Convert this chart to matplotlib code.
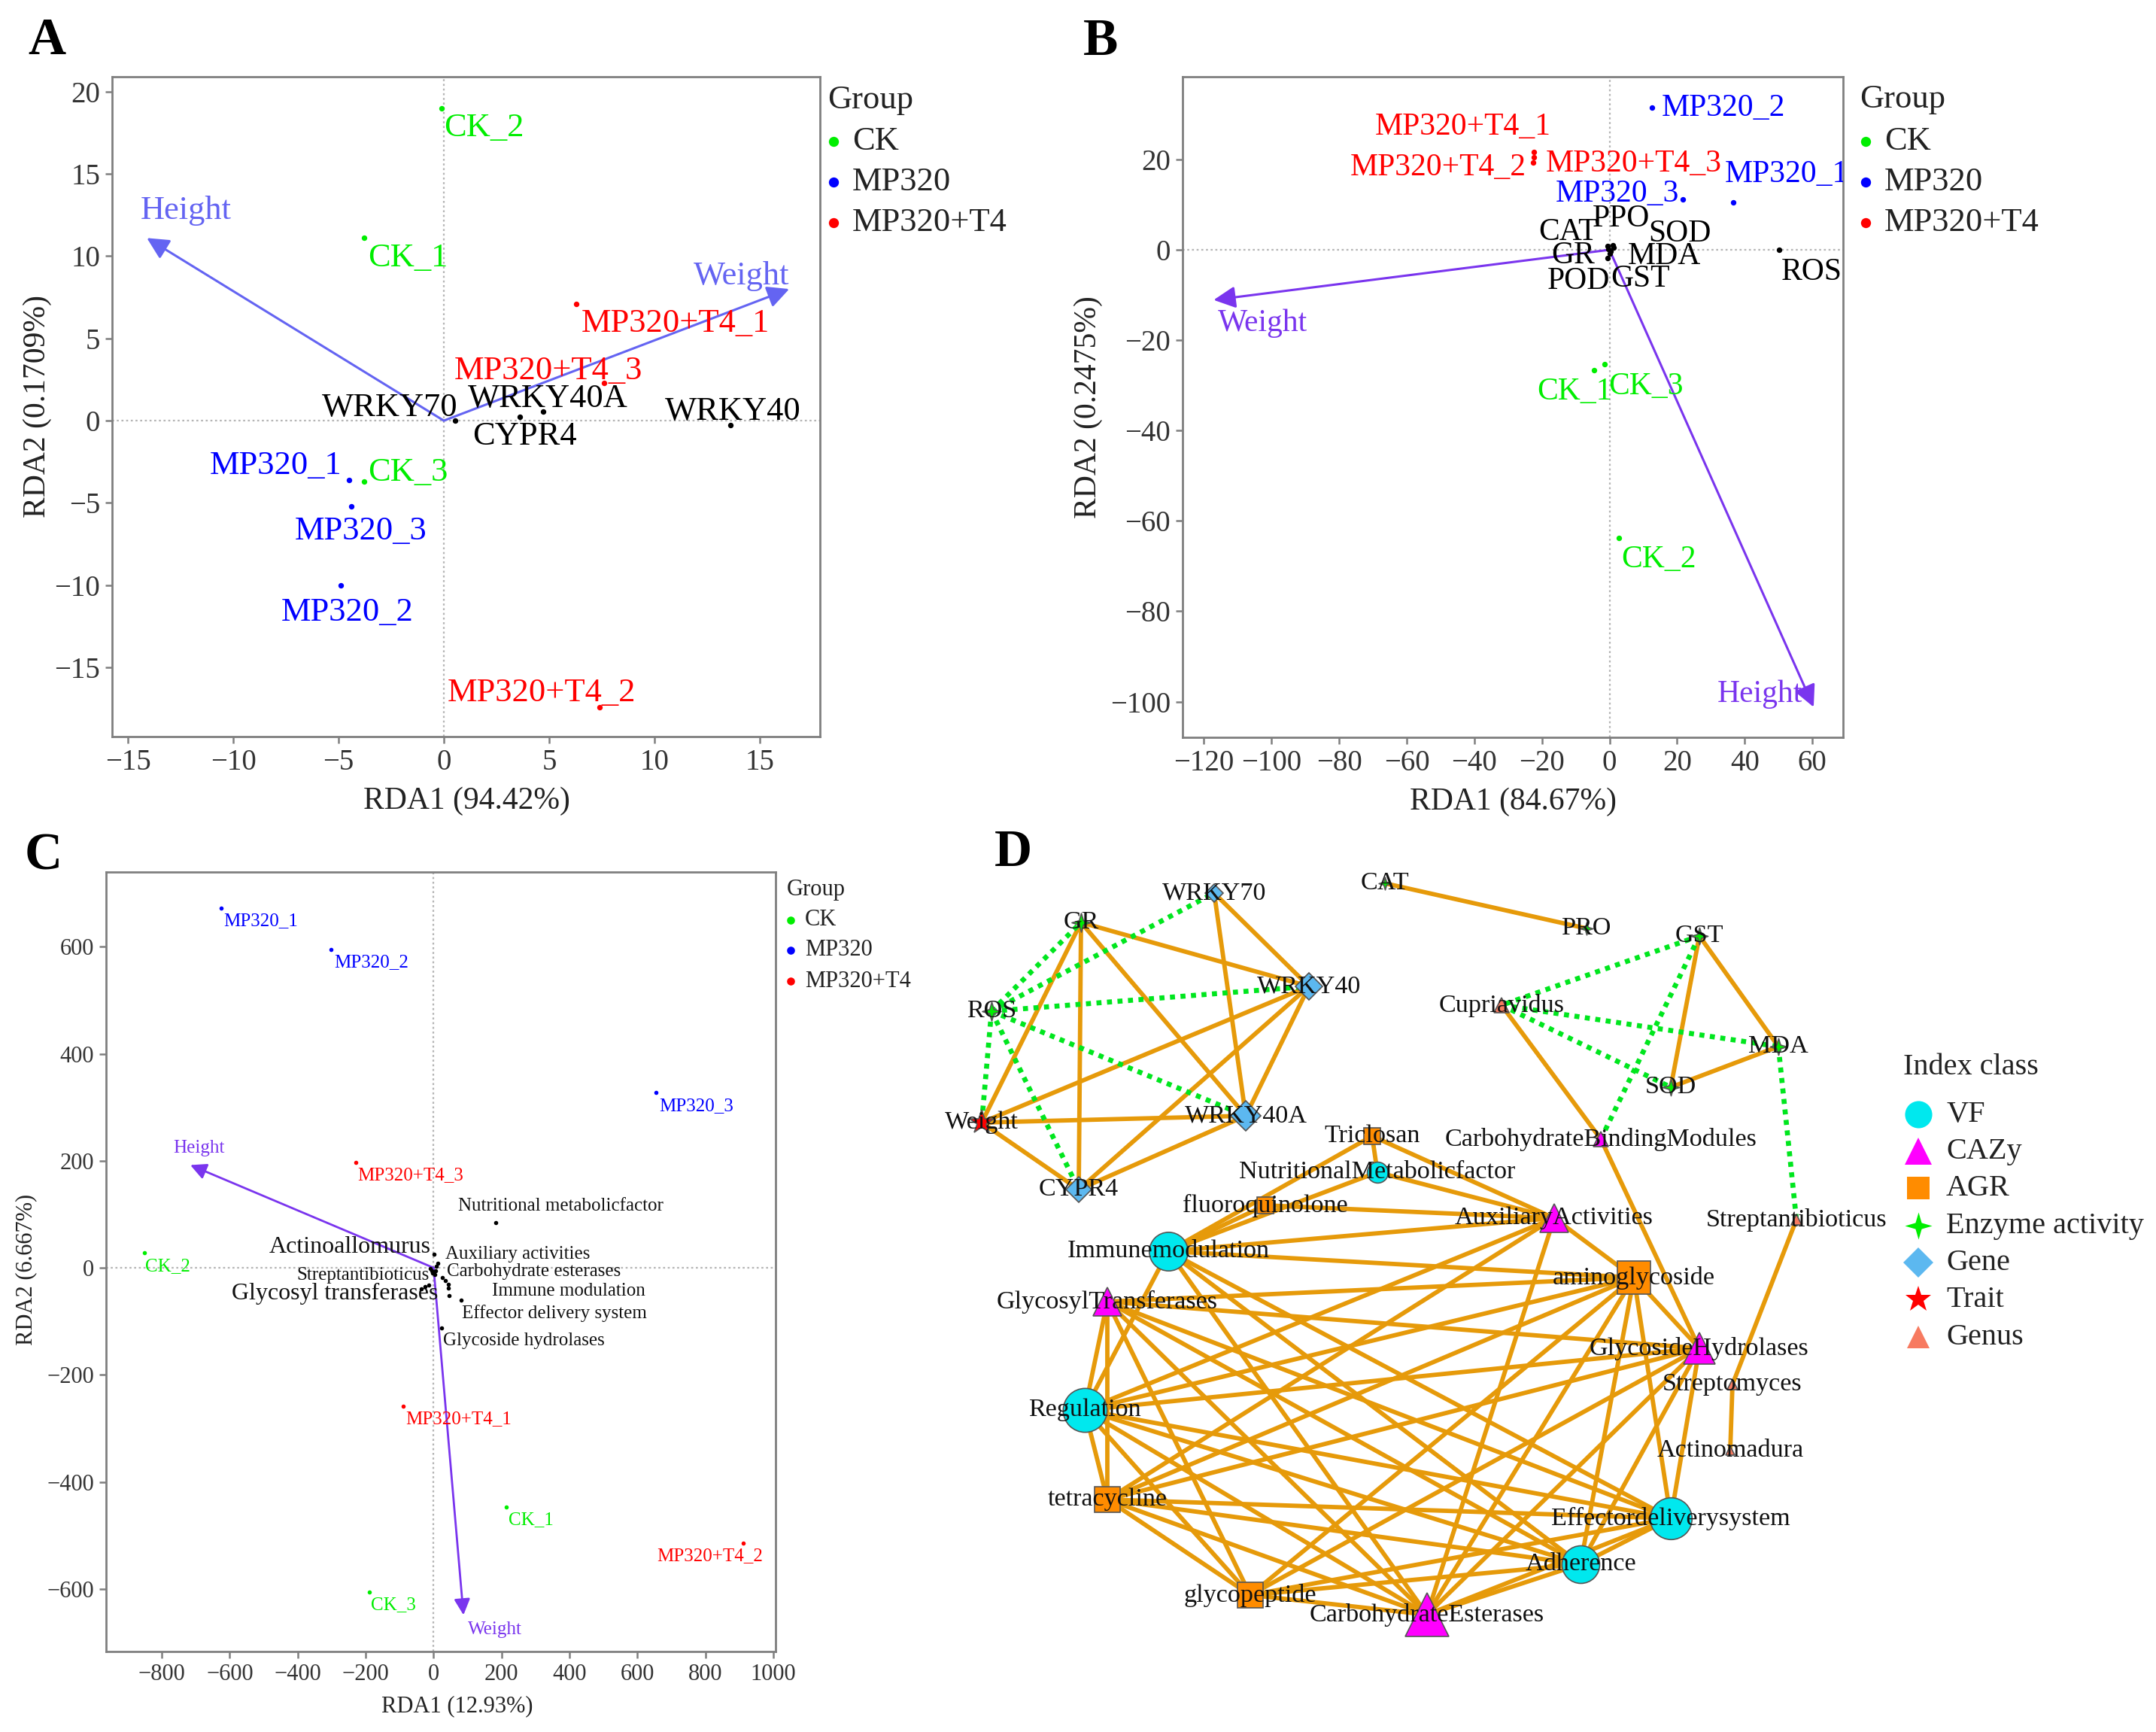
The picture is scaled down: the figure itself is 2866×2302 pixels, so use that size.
import matplotlib
matplotlib.use("Agg")
import matplotlib.pyplot as plt
from matplotlib.lines import Line2D
from matplotlib.path import Path

plt.rcParams['font.family'] = ['Liberation Serif', 'DejaVu Serif']
plt.rcParams['axes.unicode_minus'] = True

W, H = 2866, 2302
fig = plt.figure(figsize=(W / 200, H / 200), dpi=200)

GROUP_COLORS = {"CK": "#00EE00", "MP320": "#0000FF", "MP320+T4": "#FF0000"}
groups = ["CK", "MP320", "MP320+T4"]

# ---------------- data: panel A ----------------
A_samples = ["CK_1", "CK_2", "CK_3", "MP320_1", "MP320_2", "MP320_3",
             "MP320+T4_1", "MP320+T4_2", "MP320+T4_3"]
A_group = ["CK", "CK", "CK", "MP320", "MP320", "MP320", "MP320+T4", "MP320+T4", "MP320+T4"]
A_rda1 = [-3.8, -0.1, -3.8, -4.5, -4.9, -4.4, 6.3, 7.4, 7.6]
A_rda2 = [11.1, 19.0, -3.7, -3.6, -10.0, -5.2, 7.1, -17.4, 2.3]
A_genes = ["WRKY70", "WRKY40A", "CYPR4", "WRKY40"]
A_gene1 = [0.55, 4.7, 3.6, 13.6]
A_gene2 = [0.0, 0.55, 0.22, -0.26]
A_env = ["Height", "Weight"]
A_env1 = [-14.1, 16.4]
A_env2 = [11.1, 8.0]

# ---------------- data: panel B ----------------
B_samples = A_samples
B_group = A_group
B_rda1 = [-4.5, 2.8, -1.4, 36.6, 12.6, 21.8, -22.4, -22.5, -22.3]
B_rda2 = [-26.7, -63.8, -25.3, 10.5, 31.5, 11.2, 21.6, 19.4, 20.4]
B_enz = ["CAT", "PPO", "SOD", "GR", "MDA", "POD", "GST", "ROS"]
B_enz1 = [-0.5, 0.9, 1.2, -0.3, 0.3, -0.6, 0.2, 50.2]
B_enz2 = [0.8, 1.0, 0.5, 0.2, -0.3, -1.8, -0.8, 0.0]
B_env = ["Weight", "Height"]
B_env1 = [-117.1, 60.4]
B_env2 = [-11.1, -101.2]

# ---------------- data: panel C ----------------
C_samples = A_samples
C_group = A_group
C_rda1 = [214.6, -852.0, -189.3, -624.5, -301.4, 653.5, -88.4, 910.5, -229.8]
C_rda2 = [-446.6, 28.0, -605.6, 672.7, 595.2, 327.8, -258.6, -514.0, 197.4]
C_feat = ["Actinoallomurus", "Auxiliary activities", "Regulation", "Streptantibioticus",
          "Carbohydrate esterases", "Adherence", "Immune modulation", "glycopeptide",
          "tetracycline", "Effector delivery system", "Glycoside hydrolases",
          "Glycosyl transferases", "Streptomyces", "aminoglycoside",
          "Nutritional metabolicfactor", "Cupriavidus", "Actinomadura",
          "Carbohydrate binding modules", "fluoroquinolone"]
C_feat1 = [0.7, 11.7, 8.0, -3.0, 26.0, 34.0, 43.0, 43.0, 46.0, 82.0, 23.0,
           -25.0, -36.0, -14.0, 182.0, -6.0, 3.0, -9.0, 5.0]
C_feat2 = [25.7, 8.0, 3.2, -9.4, -18.7, -23.5, -30.5, -37.5, -51.6, -60.9, -112.5,
           -35.0, -39.0, -32.0, 84.0, -5.0, -13.0, -2.0, -6.0]
C_env = ["Height", "Weight"]
C_env1 = [-716.0, 88.0]
C_env2 = [192.0, -648.8]

# ---------------- label placement (layout) ----------------
A_lab = {"CK_1": (-3.59, 9.86, 'left'), "CK_2": (0.0, 17.8, 'left'), "CK_3": (-3.59, -3.15, 'left'),
         "MP320_1": (-4.83, -2.76, 'right'), "MP320_2": (-4.57, -11.66, 'center'),
         "MP320_3": (-3.95, -6.74, 'center'), "MP320+T4_1": (6.53, 5.9, 'left'),
         "MP320+T4_2": (0.16, -16.57, 'left'), "MP320+T4_3": (0.49, 3.02, 'left'),
         "WRKY70": (0.65, 0.8, 'right'), "WRKY40A": (1.14, 1.35, 'left'),
         "CYPR4": (1.37, -0.96, 'left'), "WRKY40": (10.5, 0.55, 'left'),
         "Height": (-14.4, 12.75, 'left'), "Weight": (16.4, 8.8, 'right')}
B_lab = {"MP320_2": (15.3, 31.3, 'left'), "MP320+T4_1": (-17.3, 27.2, 'right'),
         "MP320+T4_2": (-24.6, 18.2, 'right'), "MP320+T4_3": (-18.9, 19.0, 'left'),
         "MP320_1": (34.0, 16.7, 'left'), "MP320_3": (-15.9, 12.3, 'left'),
         "PPO": (-5.1, 6.8, 'left'), "CAT": (-21.0, 3.9, 'left'), "SOD": (11.6, 3.5, 'left'),
         "GR": (-17.3, -1.3, 'left'), "MDA": (5.5, -1.5, 'left'), "POD": (-18.5, -7.0, 'left'),
         "GST": (0.4, -6.4, 'left'), "ROS": (50.8, -4.9, 'left'), "Weight": (-115.9, -16.2, 'left'),
         "CK_1": (-21.4, -31.4, 'left'), "CK_3": (-0.2, -30.2, 'left'), "CK_2": (3.5, -68.5, 'left'),
         "Height": (31.9, -98.3, 'left')}
C_lab = {"MP320_1": (-619, 648, 'left', 9), "MP320_2": (-292, 571, 'left', 9),
         "MP320_3": (663, 303, 'left', 9), "Height": (-766, 223, 'left', 9),
         "MP320+T4_3": (-224, 172.5, 'left', 9),
         "Nutritional metabolicfactor": (73, 116, 'left', 9),
         "Actinoallomurus": (-9, 39, 'right', 11.5), "Auxiliary activities": (35, 25, 'left', 9),
         "Streptantibioticus": (-13, -14, 'right', 9), "Carbohydrate esterases": (39, -7.5, 'left', 9),
         "Glycosyl transferases": (13, -48.5, 'right', 11.5), "Immune modulation": (171, -43, 'left', 9),
         "Effector delivery system": (83, -85, 'left', 9), "Glycoside hydrolases": (28, -137, 'left', 9),
         "MP320+T4_1": (-83, -282.5, 'left', 9), "CK_1": (220, -471, 'left', 9),
         "MP320+T4_2": (658, -538, 'left', 9), "CK_3": (-185, -630, 'left', 9),
         "Weight": (101, -676, 'left', 9), "CK_2": (-849, 3, 'left', 9)}


def fx(x):
    return x / W


def fy(y):
    return 1 - y / H


def rect(l, t, r, b):
    return [fx(l), fy(b), (r - l) / W, (b - t) / H]


def style_axes(ax, ticksize):
    for s in ax.spines.values():
        s.set_color('#7f7f7f')
        s.set_linewidth(1.0)
    ax.tick_params(direction='out', length=3.2, width=0.9, color='#7f7f7f',
                   labelsize=ticksize, labelcolor='#333333', pad=2.5)
    ax.axhline(0, color='#b5b5b5', lw=0.8, ls=(0, (1.2, 1.6)), zorder=0)
    ax.axvline(0, color='#b5b5b5', lw=0.8, ls=(0, (1.2, 1.6)), zorder=0)


def draw_legend(tx, ty, dot_x, txt_x, ys, fs, ms):
    fig.text(fx(tx), fy(ty), "Group", fontsize=fs, ha='left', va='center', color='#222222')
    for g, yy in zip(groups, ys):
        fig.add_artist(Line2D([fx(dot_x)], [fy(yy)], marker='o', ms=ms, color=GROUP_COLORS[g],
                              lw=0, transform=fig.transFigure))
        fig.text(fx(txt_x), fy(yy), g, fontsize=fs, ha='left', va='center', color='#222222')


def arrow(ax, x, y, color, lw, ms):
    ax.annotate('', xy=(x, y), xytext=(0, 0),
                arrowprops=dict(arrowstyle='-|>', color=color, lw=lw, mutation_scale=ms,
                                shrinkA=0, shrinkB=0), zorder=3)


# ================= Panel A =================
axA = fig.add_axes(rect(149, 102, 1090, 979))
style_axes(axA, 14)
axA.set_xlim(-15.75, 17.86)
axA.set_ylim(-19.2, 20.9)
axA.set_xticks([-15, -10, -5, 0, 5, 10, 15])
axA.set_yticks([-15, -10, -5, 0, 5, 10, 15, 20])
colA = '#6464F2'
for x, y in zip(A_env1, A_env2):
    arrow(axA, x, y, colA, 1.1, 22)
for g in groups:
    xs = [x for x, gg in zip(A_rda1, A_group) if gg == g]
    ys = [y for y, gg in zip(A_rda2, A_group) if gg == g]
    axA.scatter(xs, ys, s=7, color=GROUP_COLORS[g], zorder=4, linewidths=0)
axA.scatter(A_gene1, A_gene2, s=7, color='black', zorder=4, linewidths=0)
for n, g in zip(A_samples, A_group):
    lx, ly, ha = A_lab[n]
    axA.text(lx, ly, n, color=GROUP_COLORS[g], fontsize=16, ha=ha, va='center')
for n in A_genes:
    lx, ly, ha = A_lab[n]
    axA.text(lx, ly, n, color='black', fontsize=16, ha=ha, va='center')
for n in A_env:
    lx, ly, ha = A_lab[n]
    axA.text(lx, ly, n, color=colA, fontsize=16, ha=ha, va='center')
axA.text(0.5005, -0.098, "RDA1 (94.42%)", transform=axA.transAxes, fontsize=15,
         ha='center', va='center', color='#222222')
axA.text(-0.105, 0.5, "RDA2 (0.1709%)", transform=axA.transAxes, fontsize=15,
         ha='center', va='center', rotation=90, color='#222222')
draw_legend(1100, 133, 1108, 1133, [188, 242, 296], 16, 3.8)
fig.text(fx(37), fy(55), "A", fontsize=25, fontweight='bold', ha='left', va='center')

# ================= Panel B =================
axB = fig.add_axes(rect(1572, 102, 2450, 980))
style_axes(axB, 14)
axB.set_xlim(-126.3, 69.1)
axB.set_ylim(-107.9, 38.3)
axB.set_xticks(list(range(-120, 61, 20)))
axB.set_yticks([-100, -80, -60, -40, -20, 0, 20])
colB = '#7A35EE'
for x, y in zip(B_env1, B_env2):
    arrow(axB, x, y, colB, 1.1, 22)
for g in groups:
    xs = [x for x, gg in zip(B_rda1, B_group) if gg == g]
    ys = [y for y, gg in zip(B_rda2, B_group) if gg == g]
    axB.scatter(xs, ys, s=7, color=GROUP_COLORS[g], zorder=4, linewidths=0)
axB.scatter(B_enz1, B_enz2, s=7, color='black', zorder=4, linewidths=0)
for n, g in zip(B_samples, B_group):
    lx, ly, ha = B_lab[n]
    axB.text(lx, ly, n, color=GROUP_COLORS[g], fontsize=15, ha=ha, va='center', clip_on=True)
for n in B_enz:
    lx, ly, ha = B_lab[n]
    axB.text(lx, ly, n, color='black', fontsize=15, ha=ha, va='center', clip_on=True)
for n in B_env:
    lx, ly, ha = B_lab[n]
    axB.text(lx, ly, n, color=colB, fontsize=15, ha=ha, va='center', clip_on=True)
axB.text(0.5, -0.098, "RDA1 (84.67%)", transform=axB.transAxes, fontsize=15,
         ha='center', va='center', color='#222222')
axB.text(-0.143, 0.5, "RDA2 (0.2475%)", transform=axB.transAxes, fontsize=15,
         ha='center', va='center', rotation=90, color='#222222')
draw_legend(2472, 132, 2480, 2505, [188, 242, 296], 16, 3.8)
fig.text(fx(1440), fy(56), "B", fontsize=25, fontweight='bold', ha='left', va='center')

# ================= Panel C =================
axC = fig.add_axes(rect(141, 1159, 1031, 2195))
style_axes(axC, 11)
axC.set_xlim(-964, 1006.6)
axC.set_ylim(-717, 739.6)
axC.set_xticks(list(range(-800, 1001, 200)))
axC.set_yticks([-600, -400, -200, 0, 200, 400, 600])
for x, y in zip(C_env1, C_env2):
    arrow(axC, x, y, colB, 1.0, 16)
for g in groups:
    xs = [x for x, gg in zip(C_rda1, C_group) if gg == g]
    ys = [y for y, gg in zip(C_rda2, C_group) if gg == g]
    axC.scatter(xs, ys, s=4, color=GROUP_COLORS[g], zorder=4, linewidths=0)
axC.scatter(C_feat1, C_feat2, s=4, color='black', zorder=4, linewidths=0)
for n, g in zip(C_samples, C_group):
    lx, ly, ha, fs = C_lab[n]
    axC.text(lx, ly, n, color=GROUP_COLORS[g], fontsize=fs, ha=ha, va='center')
for n in C_feat:
    if n in C_lab:
        lx, ly, ha, fs = C_lab[n]
        axC.text(lx, ly, n, color='#111111', fontsize=fs, ha=ha, va='center')
for n in C_env:
    lx, ly, ha, fs = C_lab[n]
    axC.text(lx, ly, n, color=colB, fontsize=fs, ha=ha, va='center')
axC.text(0.524, -0.07, "RDA1 (12.93%)", transform=axC.transAxes, fontsize=11,
         ha='center', va='center', color='#222222')
axC.text(-0.119, 0.49, "RDA2 (6.667%)", transform=axC.transAxes, fontsize=11,
         ha='center', va='center', rotation=90, color='#222222')
draw_legend(1046, 1182, 1051, 1070, [1223, 1263, 1304], 11, 2.8)
fig.text(fx(33), fy(1138), "C", fontsize=25, fontweight='bold', ha='left', va='center')

# ================= Panel D (network) =================
node_names = ["WRKY70", "GR", "WRKY40", "ROS", "Weight", "WRKY40A", "CYPR4", "CAT", "PRO",
              "GST", "Cupriavidus", "MDA", "SOD", "CarbohydrateBindingModules",
              "Streptantibioticus", "Triclosan", "NutritionalMetabolicfactor", "fluoroquinolone",
              "AuxiliaryActivities", "Immunemodulation", "aminoglycoside", "GlycosylTransferases",
              "GlycosideHydrolases", "Streptomyces", "Regulation", "Actinomadura", "tetracycline",
              "Effectordeliverysystem", "Adherence", "glycopeptide", "CarbohydrateEsterases"]
node_class = ["Gene", "Enzyme activity", "Gene", "Enzyme activity", "Trait", "Gene", "Gene",
              "Enzyme activity", "Enzyme activity", "Enzyme activity", "Genus", "Enzyme activity",
              "Enzyme activity", "CAZy", "Genus", "AGR", "VF", "AGR", "CAZy", "VF", "AGR", "CAZy",
              "CAZy", "Genus", "VF", "Genus", "AGR", "VF", "VF", "AGR", "CAZy"]
# layout coordinates of the network (pixel space of the panel)
node_x = [1614, 1437, 1740, 1318, 1305, 1656, 1434, 1841, 2109, 2259, 1996, 2364, 2221, 2128,
          2388, 1824, 1831, 1682, 2066, 1553, 2172, 1472, 2259, 2303, 1442, 2300, 1472, 2221,
          2101, 1662, 1897]
node_y = [1187, 1226, 1311, 1344, 1492, 1483, 1581, 1174, 1234, 1244, 1336, 1391, 1445, 1514,
          1621, 1510, 1558, 1602, 1619, 1663, 1698, 1730, 1792, 1840, 1874, 1928, 1993, 2018,
          2079, 2120, 2146]
node_ms = [7, 9, 11, 9, 12, 12, 10, 6, 6, 8, 7, 8, 8, 7, 5, 8, 10, 8, 14, 18.5, 16, 14, 15, 5,
           21, 4, 12.5, 20, 18, 12.5, 21]

pos_edges = [
    ("GR", "WRKY40"), ("GR", "CYPR4"), ("GR", "WRKY40A"), ("GR", "Weight"),
    ("WRKY70", "WRKY40"), ("WRKY70", "WRKY40A"), ("WRKY40", "Weight"), ("WRKY40", "CYPR4"),
    ("WRKY40", "WRKY40A"), ("Weight", "WRKY40A"), ("Weight", "CYPR4"), ("CYPR4", "WRKY40A"),
    ("CAT", "PRO"),
    ("GST", "SOD"), ("GST", "MDA"), ("SOD", "MDA"), ("Cupriavidus", "CarbohydrateBindingModules"),
    ("CarbohydrateBindingModules", "GlycosideHydrolases"), ("Streptantibioticus", "Streptomyces"),
    ("Streptomyces", "Actinomadura"),
    ("Triclosan", "NutritionalMetabolicfactor"), ("Triclosan", "Immunemodulation"),
    ("Triclosan", "AuxiliaryActivities"), ("NutritionalMetabolicfactor", "Immunemodulation"),
    ("NutritionalMetabolicfactor", "AuxiliaryActivities"), ("fluoroquinolone", "Immunemodulation"),
    ("fluoroquinolone", "AuxiliaryActivities"),
    ("Immunemodulation", "AuxiliaryActivities"), ("Immunemodulation", "aminoglycoside"),
    ("Immunemodulation", "Regulation"), ("Immunemodulation", "Effectordeliverysystem"),
    ("Immunemodulation", "CarbohydrateEsterases"), ("Immunemodulation", "Adherence"),
    ("AuxiliaryActivities", "Regulation"), ("AuxiliaryActivities", "tetracycline"),
    ("AuxiliaryActivities", "aminoglycoside"), ("AuxiliaryActivities", "CarbohydrateEsterases"),
    ("GlycosylTransferases", "aminoglycoside"), ("GlycosylTransferases", "GlycosideHydrolases"),
    ("GlycosylTransferases", "Regulation"), ("GlycosylTransferases", "tetracycline"),
    ("GlycosylTransferases", "glycopeptide"), ("GlycosylTransferases", "CarbohydrateEsterases"),
    ("GlycosylTransferases", "Adherence"), ("GlycosylTransferases", "Effectordeliverysystem"),
    ("Regulation", "aminoglycoside"), ("Regulation", "GlycosideHydrolases"),
    ("Regulation", "Effectordeliverysystem"), ("Regulation", "Adherence"),
    ("Regulation", "CarbohydrateEsterases"), ("Regulation", "glycopeptide"),
    ("Regulation", "tetracycline"),
    ("tetracycline", "aminoglycoside"), ("tetracycline", "GlycosideHydrolases"),
    ("tetracycline", "Effectordeliverysystem"), ("tetracycline", "Adherence"),
    ("tetracycline", "CarbohydrateEsterases"), ("tetracycline", "glycopeptide"),
    ("glycopeptide", "aminoglycoside"), ("glycopeptide", "GlycosideHydrolases"),
    ("glycopeptide", "Adherence"), ("glycopeptide", "CarbohydrateEsterases"),
    ("glycopeptide", "Effectordeliverysystem"),
    ("CarbohydrateEsterases", "aminoglycoside"), ("CarbohydrateEsterases", "GlycosideHydrolases"),
    ("CarbohydrateEsterases", "Effectordeliverysystem"), ("CarbohydrateEsterases", "Adherence"),
    ("Adherence", "aminoglycoside"), ("Adherence", "GlycosideHydrolases"),
    ("Adherence", "Effectordeliverysystem"),
    ("Effectordeliverysystem", "aminoglycoside"), ("Effectordeliverysystem", "GlycosideHydrolases"),
    ("aminoglycoside", "GlycosideHydrolases"),
]
neg_edges = [
    ("ROS", "GR"), ("ROS", "WRKY70"), ("ROS", "WRKY40"), ("ROS", "WRKY40A"), ("ROS", "CYPR4"),
    ("ROS", "Weight"),
    ("GST", "Cupriavidus"), ("GST", "CarbohydrateBindingModules"), ("Cupriavidus", "MDA"),
    ("Cupriavidus", "SOD"), ("MDA", "Streptantibioticus"),
]

class_style = {
    "VF": dict(marker='o', color='#00E8EE'),
    "CAZy": dict(marker='^', color='#FF00FF'),
    "AGR": dict(marker='s', color='#FF8C00'),
    "Enzyme activity": dict(marker=Path.unit_regular_star(4, innerCircle=0.32), color='#00EE00'),
    "Gene": dict(marker='D', color='#5CB8F0'),
    "Trait": dict(marker='*', color='#FF0000'),
    "Genus": dict(marker='^', color='#F77A60'),
}
class_order = ["VF", "CAZy", "AGR", "Enzyme activity", "Gene", "Trait", "Genus"]

axD = fig.add_axes([fx(1280), 0, (W - 1280) / W, (H - 1100) / H])
axD.set_xlim(1280, W)
axD.set_ylim(H, 1100)
axD.axis('off')

idx = {n: i for i, n in enumerate(node_names)}
for a, b in pos_edges:
    i, j = idx[a], idx[b]
    axD.plot([node_x[i], node_x[j]], [node_y[i], node_y[j]], color='#E69A0A', lw=2.1,
             solid_capstyle='round', zorder=1)
for a, b in neg_edges:
    i, j = idx[a], idx[b]
    axD.plot([node_x[i], node_x[j]], [node_y[i], node_y[j]], color='#00E61E', lw=2.4,
             ls=(0, (1, 1.1)), dash_capstyle='butt', zorder=1.5)
for i, n in enumerate(node_names):
    st = class_style[node_class[i]]
    ms = node_ms[i]
    if node_class[i] == 'Gene':
        ms = ms * 0.85
    axD.plot([node_x[i]], [node_y[i]], marker=st['marker'], ms=ms, color=st['color'],
             mec='#555555', mew=0.6, lw=0, zorder=2)
    axD.text(node_x[i], node_y[i], n, fontsize=12.3, ha='center', va='center', color='#111111',
             zorder=3)

# legend D
axD.text(2530, 1418, "Index class", fontsize=14.5, ha='left', va='center', color='#222222')
leg_y = [1481, 1530, 1579, 1629, 1678, 1727, 1777]
leg_ms = {"VF": 13, "CAZy": 13, "AGR": 10.5, "Enzyme activity": 13, "Gene": 10,
          "Trait": 13, "Genus": 11}
for c, yy in zip(class_order, leg_y):
    st = class_style[c]
    axD.plot([2550], [yy], marker=st['marker'], ms=leg_ms[c], color=st['color'], lw=0,
             mew=0, clip_on=False)
    axD.text(2587, yy, c, fontsize=14.5, ha='left', va='center', color='#222222')
fig.text(fx(1322), fy(1134), "D", fontsize=25, fontweight='bold', ha='left', va='center')

fig.savefig("out.png", dpi=200, facecolor='white')
